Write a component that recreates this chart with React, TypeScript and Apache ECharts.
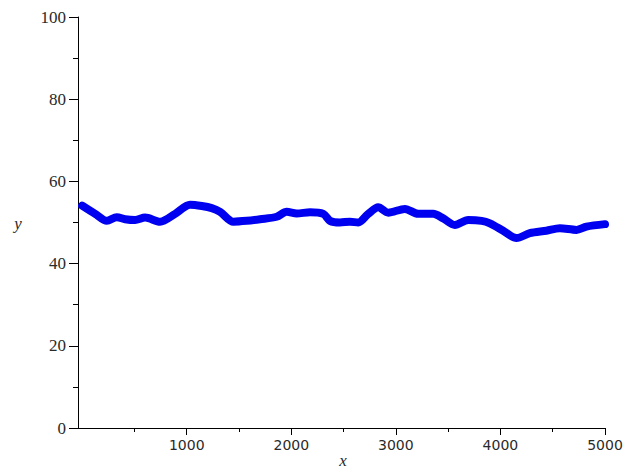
import React, { useEffect, useRef } from "react";
import * as echarts from "echarts";

// Sampled trajectory (x, y)
const xs = [0, 124, 236, 331, 411, 506, 602, 745, 889, 1032, 1144, 1239, 1319, 1446, 1573, 1701, 1860, 1956, 2052, 2179, 2306, 2370, 2465, 2561, 2640, 2736, 2831, 2927, 3086, 3214, 3357, 3453, 3564, 3692, 3820, 3899, 4026, 4154, 4281, 4440, 4568, 4727, 4823, 5000];
const ys = [54.1, 52.1, 50.4, 51.3, 50.8, 50.6, 51.2, 50.2, 52.1, 54.3, 54.0, 53.5, 52.6, 50.2, 50.4, 50.8, 51.4, 52.6, 52.2, 52.5, 52.1, 50.4, 50.0, 50.2, 50.0, 52.1, 53.7, 52.4, 53.3, 52.1, 52.1, 51.0, 49.4, 50.6, 50.4, 49.8, 48.0, 46.2, 47.4, 48.0, 48.6, 48.2, 49.0, 49.6];

const xMajorTicks = [1000, 2000, 3000, 4000, 5000];
const xMinorTicks = [500, 1500, 2500, 3500, 4500];
const yTicks = [0, 20, 40, 60, 80, 100];

export default function App() {
  const ref = useRef<HTMLDivElement>(null);

  useEffect(() => {
    if (!ref.current) return;
    const chart = echarts.init(ref.current, null, { renderer: "svg" });
    const axisColor = "#000";
    chart.setOption({
      animation: false,
      backgroundColor: "#fff",
      grid: { left: 78, right: 26, top: 17, bottom: 42, containLabel: false },
      xAxis: [
        {
          type: "value",
          min: -40,
          max: 5000,
          axisLine: { show: true, onZero: false, lineStyle: { color: axisColor, width: 1 } },
          axisTick: { show: true, customValues: xMajorTicks, length: 7, lineStyle: { color: axisColor } },
          axisLabel: {
            customValues: xMajorTicks,
            formatter: (v: number) => String(v),
            color: "#2a2a2a",
            fontFamily: "DejaVu Sans",
            fontSize: 14,
            margin: 10,
          },
          splitLine: { show: false },
        },
        {
          type: "value",
          min: -40,
          max: 5000,
          position: "bottom",
          axisLine: { show: false },
          axisTick: { show: true, customValues: xMinorTicks, length: 4, lineStyle: { color: axisColor } },
          axisLabel: { show: false },
          splitLine: { show: false },
        },
      ],
      yAxis: {
        type: "value",
        min: yTicks[0],
        max: yTicks[yTicks.length - 1],
        interval: 20,
        axisLine: { show: true, onZero: false, lineStyle: { color: axisColor, width: 1 } },
        axisTick: { show: true, length: 9, lineStyle: { color: axisColor } },
        minorTick: { show: true, splitNumber: 2, length: 5, lineStyle: { color: axisColor } },
        axisLabel: {
          formatter: (v: number) => String(v),
          color: "#2a2a2a",
          fontFamily: "Liberation Serif",
          fontSize: 17,
          margin: 12,
        },
        splitLine: { show: false },
        minorSplitLine: { show: false },
      },
      graphic: [
        {
          type: "text",
          x: 18,
          y: 223,
          style: {
            text: "y",
            font: "italic 17px 'Liberation Serif'",
            fill: "#2a2a2a",
            textAlign: "center",
            textVerticalAlign: "middle",
          },
        },
        {
          type: "text",
          x: 343,
          y: 452,
          style: {
            text: "x",
            font: "italic 17px 'Liberation Serif'",
            fill: "#2a2a2a",
            textAlign: "center",
            textVerticalAlign: "top",
          },
        },
      ],
      series: [
        {
          type: "line",
          xAxisIndex: 0,
          data: xs.map((x, i) => [x, ys[i]]),
          showSymbol: false,
          symbol: "none",
          smooth: 0.3,
          lineStyle: { color: "#0000f0", width: 8, cap: "round", join: "round" },
        },
      ],
    });
    return () => chart.dispose();
  }, []);

  return (
    <div
      ref={ref}
      style={{ position: "fixed", left: 0, top: 0, width: 631, height: 470 }}
    />
  );
}
